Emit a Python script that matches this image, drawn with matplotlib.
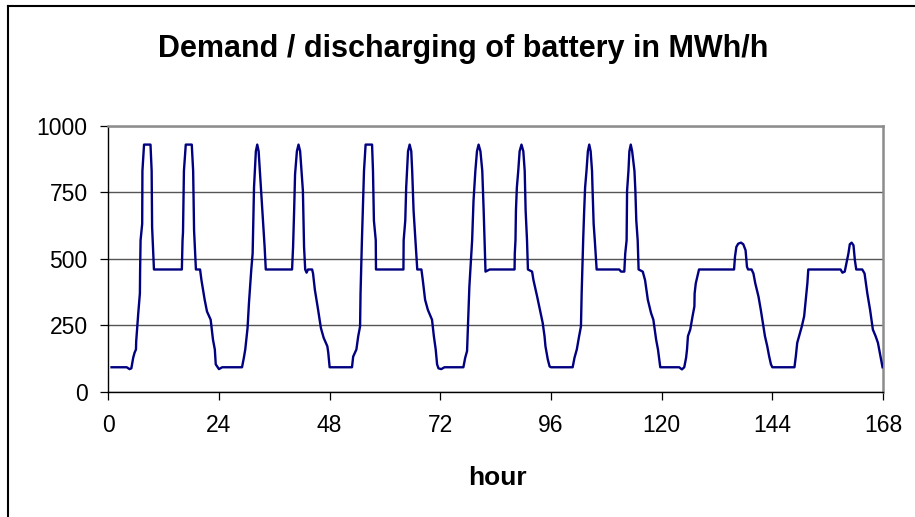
import matplotlib
matplotlib.use("Agg")
import matplotlib.pyplot as plt
from matplotlib.lines import Line2D

plt.rcParams['font.family'] = ['Liberation Sans', 'DejaVu Sans']

# Hourly battery discharge profile over one week (hour, MWh/h)
hour = [
    0.7, 4.0, 4.6, 5.0, 5.4, 5.7, 6.0, 6.05, 6.5, 6.85, 6.9, 7.0, 7.35, 7.4, 7.75, 9.15, 9.4, 9.5, 9.9,
    15.95, 16.1, 16.2, 16.4, 16.8, 18.1, 18.4, 18.6, 19.0, 19.9, 20.2, 20.9, 21.4, 22.2, 22.7, 23.1, 23.3,
    24.0, 24.7, 29.0, 29.4, 29.7, 30.2, 30.5, 31.0, 31.3, 31.6, 32.0, 32.3, 32.6, 33.1, 33.4, 33.9, 34.15,
    39.85, 40.07, 40.3, 40.5, 40.9, 41.25, 41.6, 41.9, 42.2, 42.45, 42.7, 43.0, 43.3, 44.2, 44.4, 44.8,
    45.5, 46.1, 46.7, 47.5, 47.7, 48.0,
    52.85, 53.1, 53.8, 54.2, 54.6, 54.7, 55.0, 55.2, 55.45, 55.8, 57.2, 57.4, 57.6, 58.0, 58.05,
    64.0, 64.05, 64.4, 64.6, 65.0, 65.35, 65.7, 65.9, 66.2, 66.6, 67.0, 67.9, 68.2, 68.7, 69.3, 70.2,
    70.6, 71.0, 71.3, 71.6, 72.2, 72.9,
    77.0, 77.4, 77.8, 78.0, 78.3, 78.7, 78.9, 79.2, 79.6, 79.95, 80.3, 80.7, 81.1, 81.4, 81.6, 81.8, 82.7,
    88.1, 88.15, 88.3, 88.4, 88.6, 88.9, 89.2, 89.6, 90.0, 90.3, 90.5, 90.8, 91.0, 91.9, 92.2, 93.0, 93.6,
    94.2, 94.6, 94.8, 95.3, 95.7, 96.0,
    100.7, 101.1, 101.6, 102.1, 102.5, 102.65, 102.9, 103.0, 103.2, 103.4, 103.7, 104.0, 104.3, 104.6,
    104.9, 105.0, 105.25, 105.5, 105.9, 110.8, 111.2, 111.9, 112.1, 112.4, 112.5, 112.8, 113.0, 113.3,
    113.6, 114.1, 114.3, 114.5, 114.8, 115.0, 115.9, 116.4, 117.0, 117.7, 118.2, 118.8, 119.2, 119.7,
    123.8, 124.4, 124.9, 125.3, 125.5, 125.7, 126.2, 126.7, 127.1, 127.15, 127.4, 127.9, 128.1,
    135.7, 135.9, 136.2, 136.6, 137.2, 137.7, 138.2, 138.5, 138.75, 139.5, 139.9, 140.3, 141.0, 141.5,
    142.0, 142.4, 142.9, 143.3, 143.7, 144.0,
    148.8, 149.1, 149.4, 149.8, 150.4, 150.9, 151.4, 151.6, 151.8, 158.8, 159.2, 159.7, 160.2, 160.5,
    160.8, 161.2, 161.6, 161.9, 162.2, 163.5, 164.0, 164.6, 165.2, 165.8, 166.4, 166.9, 167.3, 167.9,
]
demand = [
    92, 92, 85, 88, 128, 147, 159, 190, 296, 370, 458, 570, 632, 831, 930, 930, 831, 620, 460,
    460, 570, 600, 831, 930, 930, 831, 607, 460, 460, 420, 346, 302, 271, 196, 159, 103,
    85, 92, 92, 128, 159, 240, 333, 458, 520, 769, 905, 930, 905, 769, 682, 545, 460,
    460, 545, 682, 818, 905, 930, 905, 831, 756, 545, 460, 448, 460, 460, 445, 383,
    308, 240, 203, 171, 147, 92,
    92, 132, 159, 209, 246, 370, 570, 682, 831, 930, 930, 831, 644, 570, 460,
    460, 570, 644, 769, 905, 930, 905, 831, 682, 570, 460, 460, 420, 346, 308, 271,
    209, 159, 103, 88, 85, 92,
    92, 128, 153, 246, 395, 514, 570, 719, 831, 905, 930, 905, 831, 682, 570, 452, 460,
    460, 520, 570, 682, 769, 831, 905, 930, 905, 831, 682, 570, 460, 452, 420, 358, 308,
    259, 209, 171, 122, 95, 92,
    92, 128, 159, 209, 246, 370, 520, 582, 682, 769, 831, 905, 930, 905,
    831, 769, 632, 570, 460, 460, 452, 452, 520, 570, 756, 831, 905, 930,
    905, 831, 756, 644, 570, 460, 452, 420, 346, 296, 271, 196, 159, 92,
    92, 84, 92, 128, 159, 209, 234, 284, 321, 370, 408, 445, 460,
    460, 508, 545, 557, 561, 555, 532, 470, 460, 460, 445, 408, 358, 308,
    252, 209, 171, 134, 103, 92,
    92, 134, 184, 209, 246, 284, 370, 408, 460, 460, 448, 452, 495, 520,
    555, 561, 551, 495, 460, 460, 445, 370, 308, 234, 209, 184, 147, 92,
]

x_ticks = [0, 24, 48, 72, 96, 120, 144, 168]
y_ticks = [0, 250, 500, 750, 1000]

W, H = 915, 517
fig = plt.figure(figsize=(W / 100, H / 100), dpi=100)
ax = fig.add_axes([108.3 / W, 1 - 391.7 / H, (883 - 108.3) / W, (391.7 - 126) / H])

ax.plot(hour, demand, color='#000080', lw=1.7, solid_joinstyle='round', zorder=3)

ax.set_xlim(0, 168)
ax.set_ylim(0, 1000)
ax.set_xticks(x_ticks)
ax.set_yticks(y_ticks)
ax.yaxis.grid(True, color='#555555', lw=1.0)
ax.set_axisbelow(True)

for side in ('left', 'bottom'):
    ax.spines[side].set_color('black')
    ax.spines[side].set_linewidth(1.0)
for side in ('top', 'right'):
    ax.spines[side].set_color('#8c8c8c')
    ax.spines[side].set_linewidth(1.8)

ax.tick_params(axis='both', direction='out', length=5.8, width=0.9, color='black',
               labelsize=16.5)
ax.tick_params(axis='x', pad=10)
ax.tick_params(axis='y', pad=9)

fig.text(463 / W, 1 - 57 / H, 'Demand / discharging of battery in MWh/h',
         ha='center', va='baseline', fontsize=22, fontweight='bold')
fig.text(497 / W, 1 - 485 / H, 'hour', ha='center', va='baseline',
         fontsize=19, fontweight='bold')

# Chart-area frame (left and top edges)
fig.add_artist(Line2D([8 / W, 8 / W], [0, 1 - 6 / H], color='black', lw=1.5,
                      transform=fig.transFigure))
fig.add_artist(Line2D([8 / W, 1], [1 - 6 / H, 1 - 6 / H], color='black', lw=1.5,
                      transform=fig.transFigure))

fig.savefig('out.png', dpi=100)
